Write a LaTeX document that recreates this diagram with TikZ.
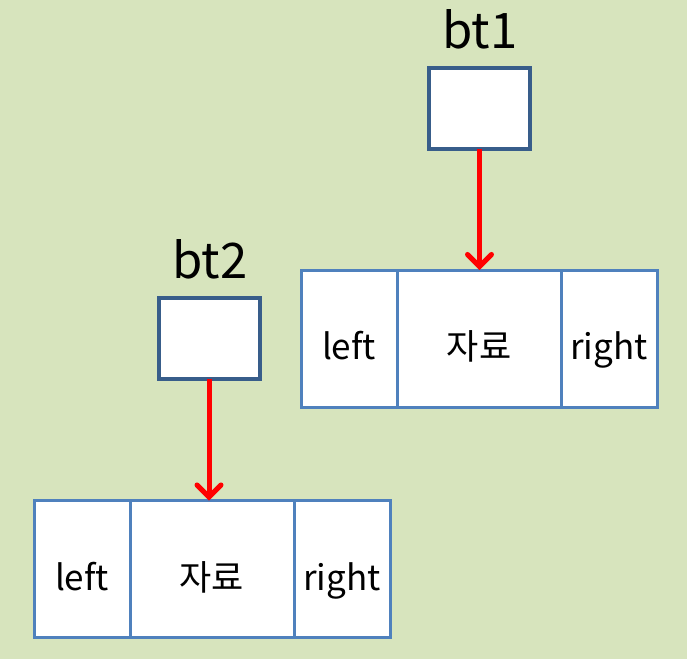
\documentclass[tikz,border=0pt]{standalone}
\usepackage{fontspec}
\setmainfont{Noto Sans CJK KR}
\usetikzlibrary{arrows.meta,positioning}
\definecolor{bggreen}{HTML}{D7E4BD}
\definecolor{cellblue}{HTML}{4F81BD}
\definecolor{ptrblue}{HTML}{385D8A}
\tikzset{
  cell/.style={draw=cellblue,line width=1.5pt,fill=white,minimum height=68.5pt,
    inner sep=0pt,outer sep=0pt,text height=21pt,text depth=0pt,
    font=\fontsize{17.5}{20}\selectfont},
  side cell/.style={cell,minimum width=48pt},
  data cell/.style={cell,minimum width=82pt},
  ptr box/.style={draw=ptrblue,line width=2pt,fill=white,minimum width=50.5pt,
    minimum height=40.5pt,inner sep=0pt,outer sep=0pt},
  ptr label/.style={font=\fontsize{24.5}{28}\selectfont,inner sep=0pt,anchor=base},
  link/.style={red,line width=2.5pt,-{Straight Barb[length=6pt,width=12pt,line cap=round]}},
}

\begin{document}
\begin{tikzpicture}[x=0.5pt,y=-0.5pt]
\fill[bggreen] (0,0) rectangle (687,659);
\useasboundingbox (0,0) rectangle (687,659);
% first node
\node[data cell] (d1) at (479,338.5) {자료};
\node[side cell,left=0pt of d1] (l1) {left};
\node[side cell,right=0pt of d1] (r1) {right};
\node[ptr box] (p1) at (479.5,108.5) {};
\node[ptr label] (n1) at (480,48) {bt1};
\draw[link] (p1.south) -- (p1.south |- d1.north);
% second node
\node[data cell] (d2) at (212,569) {자료};
\node[side cell,left=0pt of d2] (l2) {left};
\node[side cell,right=0pt of d2] (r2) {right};
\node[ptr box] (p2) at (209,338.5) {};
\node[ptr label] (n2) at (210,278) {bt2};
\draw[link] (p2.south) -- (p2.south |- d2.north);
\end{tikzpicture}
\end{document}
